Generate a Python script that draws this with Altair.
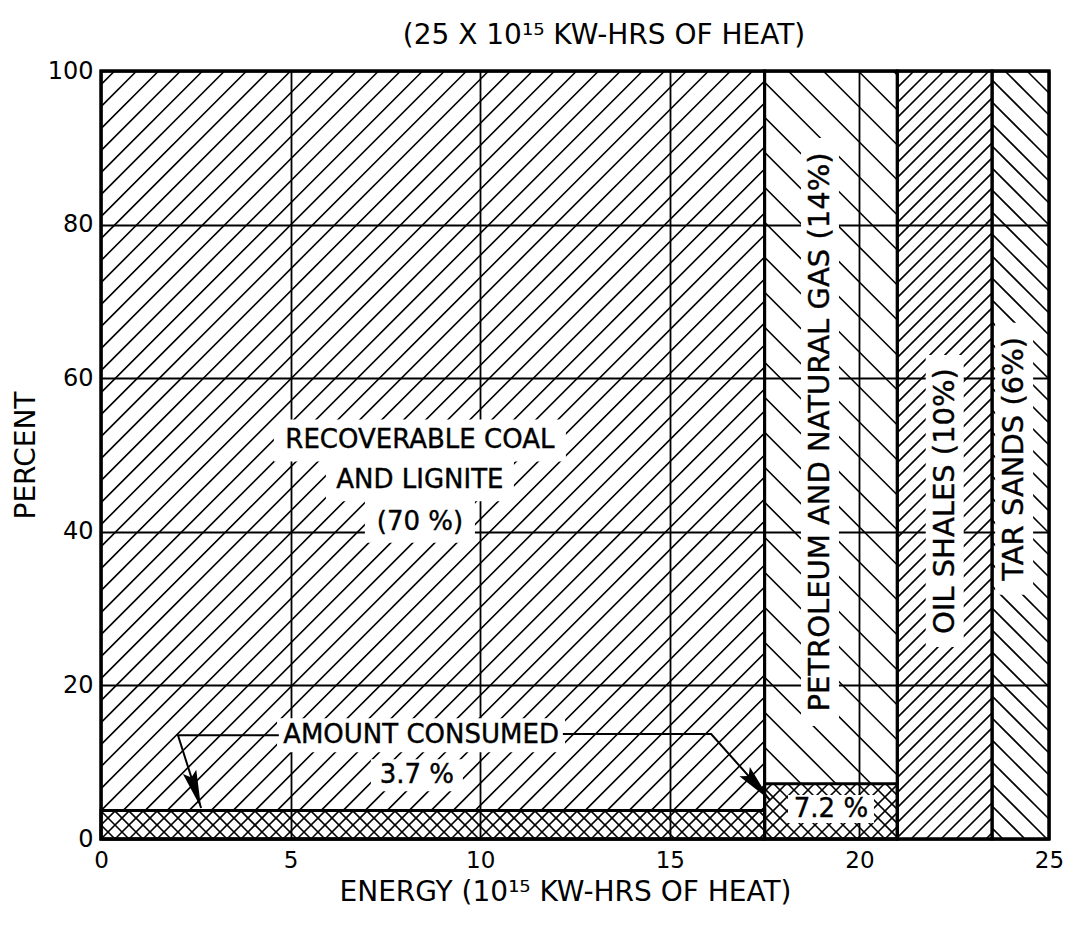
import math
import altair as alt
import pandas as pd

# ---------------- data ----------------
X_MAX = 25  # total energy, 10^15 kW-hrs of heat
resources = ["RECOVERABLE COAL AND LIGNITE", "PETROLEUM AND NATURAL GAS", "OIL SHALES", "TAR SANDS"]
share_pct = [70, 14, 10, 6]
consumed_pct = [3.7, 7.2, 0.0, 0.0]

x_ticks = [0, 5, 10, 15, 20, 25]
y_ticks = [0, 20, 40, 60, 80, 100]

h_label_text = ["RECOVERABLE COAL", "AND LIGNITE", "(70 %)", "AMOUNT CONSUMED", "3.7 %", "7.2 %"]
h_label_x = [8.41, 8.41, 8.41, 8.44, 8.33, 19.25]
h_label_y = [51.9, 46.7, 41.3, 13.5, 8.3, 3.9]

v_label_text = ["PETROLEUM AND NATURAL GAS (14%)", "OIL SHALES (10%)", "TAR SANDS (6%)"]
v_label_x = [18.96, 22.25, 24.08]
v_label_y = [53.0, 44.0, 49.5]

leader_id = ["coal", "coal", "coal", "petroleum", "petroleum", "petroleum"]
leader_x = [4.69, 2.03, 2.64, 12.18, 16.09, 17.64]
leader_y = [13.5, 13.5, 4.04, 13.67, 13.67, 5.08]

# ---------------- layout / style ----------------
W, H = 948, 768
FONT = "DejaVu Sans"
PX_X = W / X_MAX
PX_Y = H / 100.0

bounds = [0.0]
for s in share_pct:
    bounds.append(bounds[-1] + s * X_MAX / 100.0)
regions = pd.DataFrame({"resource": resources, "x0": bounds[:-1], "x1": bounds[1:],
                        "consumed": consumed_pct})


def hatch(x0, x1, y0, y1, step_px, sign):
    """45-degree (in pixels) hatch segments clipped to a data rectangle."""
    k = sign * PX_X / PX_Y
    step = step_px / PX_X
    span = (y1 - y0) / abs(k)
    segs = []
    for n in range(math.floor((x0 - span) / step) - 1, math.ceil((x1 + span) / step) + 2):
        c = n * step
        xa, xb = c, c + (y1 - y0) / k
        lo, hi = max(x0, min(xa, xb)), min(x1, max(xa, xb))
        if hi - lo > 1e-9:
            segs.append((lo, y0 + k * (lo - c), hi, y0 + k * (hi - c)))
    return segs


hatch_sign = [1, -1, 1, -1]
hatch_step = [22, 35, 15, 22]
rows = []
for i, r in regions.iterrows():
    for s in hatch(r.x0, r.x1, r.consumed, 100.0, hatch_step[i], hatch_sign[i]):
        rows.append(s)
    if r.consumed > 0:
        for sg in (1, -1):
            rows.extend(hatch(r.x0, r.x1, 0.0, r.consumed, 14, sg))
hatch_df = pd.DataFrame(rows, columns=["hx", "hy", "hx2", "hy2"])

xs = alt.Scale(domain=[0, X_MAX], nice=False, zero=False)
ys = alt.Scale(domain=[0, 100], nice=False)
x_axis = alt.Axis(values=x_ticks, title="ENERGY (10¹⁵ KW-HRS OF HEAT)", labelPadding=10,
                  labelFontSize=23, labelFlush=False, titleX=464, titleY=53,
                  titleBaseline="middle", titleAlign="center", format="d")
y_axis = alt.Axis(values=y_ticks, title="PERCENT", labelPadding=8, titleX=-75, titleY=H / 2,
                  titleAngle=270, titleAlign="center", titleBaseline="middle", format="d")


def X(f):
    return alt.X(f, type="quantitative", scale=xs, axis=x_axis)


def Y(f):
    return alt.Y(f, type="quantitative", scale=ys, axis=y_axis)


hatch_layer = alt.Chart(hatch_df).mark_rule(color="black", strokeWidth=1.6).encode(
    x=X("hx"), y=Y("hy"), x2="hx2:Q", y2="hy2:Q")

outline = alt.Chart(regions).transform_calculate(bottom="0", top="100").mark_rect(
    fillOpacity=0, stroke="black", strokeWidth=3).encode(
    x=X("x0"), x2="x1:Q", y=Y("bottom"), y2="top:Q")

consumed = alt.Chart(regions).transform_filter("datum.consumed > 0").transform_calculate(
    bottom="0").mark_rect(fillOpacity=0, stroke="black", strokeWidth=3).encode(
    x=X("x0"), x2="x1:Q", y=Y("bottom"), y2="consumed:Q")

# white backgrounds behind the lettering (pixel-size shapes centred on each label)
box_half = {"RECOVERABLE COAL": (146, 21), "AND LIGNITE": (94, 21), "(70 %)": (55, 21),
            "AMOUNT CONSUMED": (144, 17), "3.7 %": (46, 16), "7.2 %": (43, 14),
            "PETROLEUM AND NATURAL GAS (14%)": (19, 294), "OIL SHALES (10%)": (19, 146),
            "TAR SANDS (6%)": (19, 136)}


def box_path(t):
    hw, hh = box_half[t]
    return f"M{-hw},{-hh}H{hw}V{hh}H{-hw}Z"


box_df = pd.DataFrame({"t": h_label_text + v_label_text,
                       "x": h_label_x + v_label_x, "y": h_label_y + v_label_y})
box_df["path"] = [box_path(t) for t in box_df["t"]]
boxes = alt.Chart(box_df).mark_point(filled=True, fill="white", opacity=1, strokeWidth=0,
                                     size=4).encode(
    x=X("x"), y=Y("y"), shape=alt.Shape("path:N", scale=None))

h_df = pd.DataFrame({"t": h_label_text, "x": h_label_x, "y": h_label_y})
v_df = pd.DataFrame({"t": v_label_text, "x": v_label_x, "y": v_label_y})
h_text = alt.Chart(h_df).mark_text(font=FONT, fontSize=26, color="black", stroke="black",
                                   strokeWidth=0.4, align="center", baseline="middle").encode(
    x=X("x"), y=Y("y"), text="t:N")
v_text = alt.Chart(v_df).mark_text(font=FONT, fontSize=29, color="black", stroke="black",
                                   strokeWidth=0.4, align="center", baseline="middle",
                                   angle=270).encode(
    x=X("x"), y=Y("y"), text="t:N")

lead_df = pd.DataFrame({"id": leader_id, "x": leader_x, "y": leader_y,
                        "seq": list(range(len(leader_x)))})
leaders = alt.Chart(lead_df).mark_line(color="black", strokeWidth=2).encode(
    x=X("x"), y=Y("y"), detail="id:N", order="seq:Q")

# arrowheads at the end of each leader, oriented along its last segment
tips = []
for lid in dict.fromkeys(leader_id):
    pts = lead_df[lead_df.id == lid]
    (xa, ya), (xb, yb) = pts[["x", "y"]].values[-2], pts[["x", "y"]].values[-1]
    dx, dy = (xb - xa) * PX_X, -(yb - ya) * PX_Y
    ang = math.degrees(math.atan2(dx, -dy)) % 360
    tips.append({"x": xb, "y": yb, "angle": ang})
tip_df = pd.DataFrame(tips)
DART = "M0,0L7,38L0,32L-7,38Z"
arrows = alt.Chart(tip_df).mark_point(shape=DART, size=4, filled=True, fill="black",
                                      opacity=1, strokeWidth=0).encode(
    x=X("x"), y=Y("y"), angle=alt.Angle("angle:Q", scale=None))

chart = alt.layer(hatch_layer, outline, consumed, boxes, h_text, v_text, leaders, arrows).properties(
    width=W, height=H,
    title=alt.TitleParams("(25 X 10¹⁵ KW-HRS OF HEAT)", font=FONT, fontSize=28,
                          fontWeight="normal", color="black", anchor="middle", dx=29,
                          dy=38, offset=33, baseline="middle", frame="group"),
    autosize=alt.AutoSizeParams(type="none"),
    padding={"left": 93, "top": 63, "right": 16, "bottom": 70},
).configure_view(stroke="black", strokeWidth=3).configure_axis(
    labelFont=FONT, labelFontSize=24, labelColor="black", ticks=False, domain=False,
    grid=True, gridColor="black", gridWidth=1.8, gridOpacity=1,
    titleFont=FONT, titleFontSize=28, titleFontWeight="normal", titleColor="black")

chart.save("out.html", embed_options={"renderer": "svg", "actions": False})
